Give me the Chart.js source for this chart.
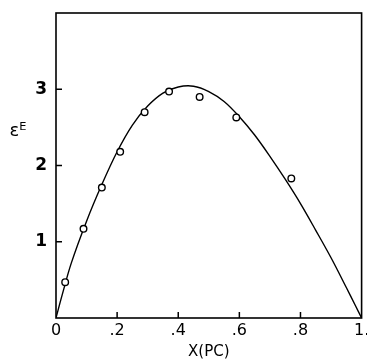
<!DOCTYPE html>
<html>
<head>
<meta charset="utf-8">
<script src="https://cdn.jsdelivr.net/npm/chart.js@4.4.0/dist/chart.umd.min.js"></script>
<style>
html,body{margin:0;padding:0;background:#fff;}
#wrap{width:367px;height:361px;position:relative;}
</style>
</head>
<body>
<div id="wrap"><canvas id="c" width="367" height="361"></canvas></div>
<script>
// measured points
const pointX = [0.03, 0.09, 0.15, 0.21, 0.29, 0.37, 0.47, 0.59, 0.77];
const pointY = [0.47, 1.17, 1.71, 2.18, 2.70, 2.97, 2.90, 2.63, 1.83];
// fitted curve
const curveX = [0, 0.02, 0.05, 0.10, 0.15, 0.20, 0.25, 0.30, 0.35, 0.40, 0.45, 0.50, 0.55, 0.60, 0.65, 0.70, 0.75, 0.80, 0.85, 0.90, 0.95, 0.98, 1.0];
const curveY = [0, 0.30, 0.72, 1.27, 1.75, 2.18, 2.53, 2.78, 2.95, 3.03, 3.04, 2.97, 2.84, 2.64, 2.40, 2.12, 1.82, 1.50, 1.15, 0.79, 0.40, 0.16, 0];
const xTickValues = [0, 0.2, 0.4, 0.6, 0.8, 1.0];
const xTickLabels = ['0', '.2', '.4', '.6', '.8', '1.'];
const yTickValues = [1, 2, 3];
const yTickLabels = ['1', '2', '3'];
const xTitle = 'X(PC)';
const yTitle = 'ε\u1D31';

const FONT = 'DejaVu Sans';

const framePlugin = {
  id: 'frame',
  afterDraw(chart) {
    const {ctx, chartArea: a, scales} = chart;
    ctx.save();
    ctx.strokeStyle = '#000';
    ctx.lineWidth = 1.6;
    ctx.strokeRect(a.left, a.top, a.right - a.left, a.bottom - a.top);
    ctx.lineWidth = 1.5;
    ctx.beginPath();
    xTickValues.forEach(v => {
      if (v === 0 || v === 1) return;
      const px = scales.x.getPixelForValue(v);
      ctx.moveTo(px, a.bottom); ctx.lineTo(px, a.bottom - 6);
    });
    yTickValues.forEach(v => {
      const py = scales.y.getPixelForValue(v);
      ctx.moveTo(a.left, py); ctx.lineTo(a.left + 6, py);
    });
    ctx.stroke();
    // y title
    ctx.fillStyle = '#000';
    ctx.font = '18px "' + FONT + '"';
    ctx.textAlign = 'center';
    ctx.textBaseline = 'middle';
    ctx.fillText(yTitle, 18, scales.y.getPixelForValue(2.45));
    ctx.restore();
  }
};

new Chart(document.getElementById('c'), {
  type: 'scatter',
  data: {
    datasets: [
      {
        data: curveX.map((x, i) => ({x, y: curveY[i]})),
        showLine: true,
        borderColor: '#000',
        borderWidth: 1.4,
        pointRadius: 0,
        tension: 0.35,
        fill: false,
        order: 2
      },
      {
        data: pointX.map((x, i) => ({x, y: pointY[i]})),
        showLine: false,
        pointRadius: 3.3,
        pointBorderWidth: 1.4,
        pointBackgroundColor: '#fff',
        pointBorderColor: '#000',
        order: 1
      }
    ]
  },
  options: {
    responsive: false,
    animation: false,
    devicePixelRatio: 1,
    layout: {padding: {left: 0, right: 5, top: 13, bottom: 0}},
    plugins: {legend: {display: false}, tooltip: {enabled: false}},
    scales: {
      x: {
        type: 'linear', min: 0, max: 1,
        afterBuildTicks: s => { s.ticks = xTickValues.map(v => ({value: v})); },
        afterFit: s => { s.height = 43; s.paddingLeft = 0; s.paddingRight = 0; },
        grid: {display: false, drawTicks: false},
        border: {display: false},
        ticks: {
          color: '#000', padding: 3, maxRotation: 0, autoSkip: false,
          font: {family: FONT, size: 16},
          callback: (v) => { const i = xTickValues.indexOf(v); return i >= 0 ? xTickLabels[i] : ''; }
        },
        title: {display: true, text: xTitle, color: '#000', font: {family: FONT, size: 15}, padding: {top: 0, bottom: 0}}
      },
      y: {
        type: 'linear', min: 0, max: 4,
        afterBuildTicks: s => { s.ticks = yTickValues.map(v => ({value: v})); },
        afterFit: s => { s.width = 56; s.paddingTop = 0; s.paddingBottom = 0; },
        grid: {display: false, drawTicks: false},
        border: {display: false},
        ticks: {
          color: '#000', padding: 9,
          font: {family: FONT, size: 17, weight: 'bold'},
          callback: (v) => { const i = yTickValues.indexOf(v); return i >= 0 ? yTickLabels[i] : ''; }
        }
      }
    }
  },
  plugins: [framePlugin]
});
</script>
</body>
</html>
